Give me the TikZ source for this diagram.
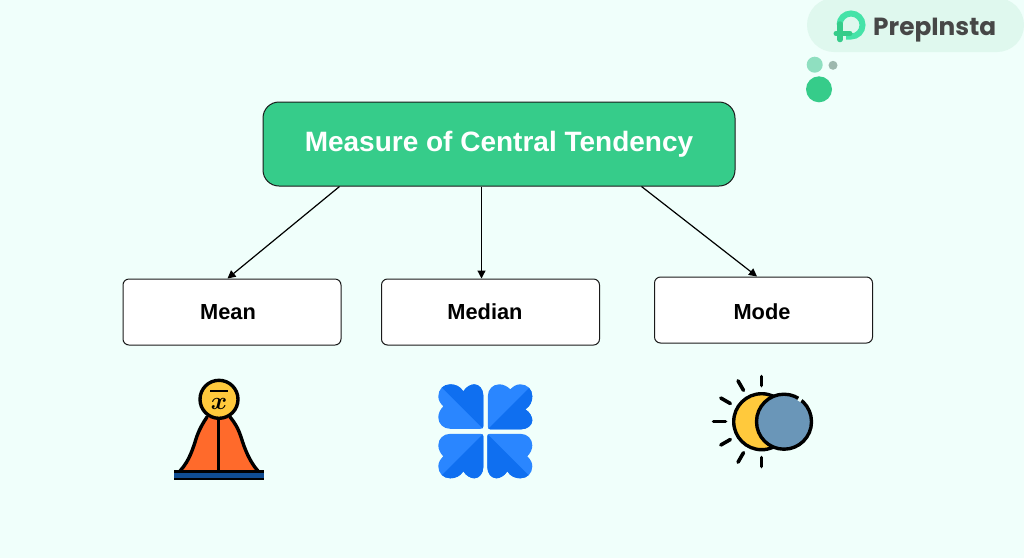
\documentclass[tikz,border=0pt]{standalone}
\usepackage{fontspec}
\setmainfont{Liberation Sans}
\newfontfamily\logofont{Poppins}
\usetikzlibrary{arrows.meta}
\definecolor{bgc}{HTML}{F0FFFB}
\definecolor{topc}{HTML}{36CC8A}
\definecolor{pillc}{HTML}{DFF8EE}
\definecolor{hlight}{HTML}{2A86FF}
\definecolor{hdark}{HTML}{0F6FF0}
\definecolor{edge}{HTML}{1A1A1A}
\definecolor{barblue}{HTML}{0F4C91}
\definecolor{bellc}{HTML}{FF6A2B}
\definecolor{suny}{HTML}{FFC93C}
\definecolor{moonb}{HTML}{6A96B8}
\definecolor{arcg}{HTML}{45E3A8}
\definecolor{dota}{HTML}{8FDFC0}
\definecolor{dotb}{HTML}{9DB8AE}
\tikzset{
  topbox/.style={draw=edge,line width=1pt,fill=topc,rounded corners=16pt,minimum width=472pt,minimum height=84pt,inner sep=0pt,text=white,font=\bfseries\fontsize{28}{32}\selectfont},
  subbox/.style={draw=edge,line width=1pt,fill=white,rounded corners=6pt,minimum width=218pt,minimum height=66pt,inner sep=0pt,text=black,font=\bfseries\fontsize{21.8}{26}\selectfont},
  conn/.style={draw=black,line width=1.2pt,-{Triangle[length=8pt,width=8pt]}},
  ink/.style={draw=black,line width=3.4pt,line cap=round,line join=round},
  ray/.style={draw=black,line width=3.6pt,line cap=round},
  heart/.pic={
    \begin{scope}
      \clip (-2,-5) .. controls (-2,-3) and (-3,-2.5) .. (-5,-2.5) -- (-35,-2.5) .. controls (-42,-2.5) and (-47,-7.5) .. (-47,-14)
        .. controls (-47,-18) and (-45,-22) .. (-42,-25)
        .. controls (-45,-28) and (-47,-31) .. (-47,-35)
        .. controls (-47,-42) and (-42,-47) .. (-35,-47)
        .. controls (-30,-47) and (-25,-45) .. (-22,-40)
        .. controls (-19,-45) and (-14,-47) .. (-11,-47)
        .. controls (-6,-47) and (-2,-42) .. (-2,-36) -- cycle;
      \fill[hlight] (-50,-50) rectangle (0,0);
      \fill[hdark] (-2,-2.5) -- (-44,-44.5) -- (-44,-50) -- (0,-50) -- (0,-2.5) -- cycle;
    \end{scope}
  }
}
\begin{document}
\begin{tikzpicture}[x=1pt,y=-1pt]
\useasboundingbox (0,0) rectangle (1024,558);
\fill[bgc] (0,0) rectangle (1024,558);
% logo
\fill[pillc,rounded corners=27pt] (807,-2) rectangle (1024,52);
\draw[draw=arcg,line width=6pt] (839.5,25) .. controls (839.5,18.6) and (844.6,13.5) .. (851,13.5) .. controls (857.4,13.5) and (862.5,18.6) .. (862.5,25) .. controls (862.5,31.4) and (857.4,36.5) .. (851,36.5) -- (846,36.5);
\draw[draw=topc,line width=5.5pt,line cap=round] (840,24) -- (840,39.5);
\draw[draw=topc,line width=5pt,line cap=round] (836,33.5) -- (850,33.5);
\node[text=black!72,anchor=base west,inner sep=0pt,font=\logofont\bfseries\fontsize{24.8}{28}\selectfont] (logotext) at (873,35) {PrepInsta};
\fill[dota] (814.7,64.7) circle (8);
\fill[dotb] (833,65.3) circle (4.5);
\fill[topc] (819,89.3) circle (13);
% boxes
\node[topbox] (top) at (499,144) {Measure of Central Tendency};
\node[subbox] (mean) at (232,312) {Mean\hspace*{8pt}};
\node[subbox] (median) at (490.5,312) {Median\hspace*{11pt}};
\node[subbox] (mode) at (763.5,310) {\raisebox{-2pt}[\height][\depth]{Mode}\hspace*{3pt}};
% connectors
\draw[conn] ([xshift=77pt]top.south west) -- ([xshift=105pt]mean.north west);
\draw[conn] ([xshift=219pt]top.south west) -- ([xshift=100.5pt]median.north west);
\draw[conn] ([xshift=379pt]top.south west) -- ([xshift=103pt]mode.north west);
% mean icon
\fill[bellc] (180,471) .. controls (190,460) and (193,448) .. (197,436) .. controls (200,428) and (203,423) .. (207,417) -- (230,417) .. controls (235,423) and (238,428) .. (241,437) .. controls (245,450) and (250,462) .. (258,471) -- cycle;
\draw[ink] (180,471) .. controls (190,460) and (193,448) .. (197,436) .. controls (200,428) and (203,423) .. (207,417);
\draw[ink] (230,417) .. controls (235,423) and (238,428) .. (241,437) .. controls (245,450) and (250,462) .. (258,471);
\draw[draw=black,line width=3pt] (218.5,417) -- (218.5,471);
\fill[barblue] (174,472) rectangle (264,479);
\fill[black] (174,470.3) rectangle (264,472.8);
\fill[black] (174,478) rectangle (264,479.8);
\draw[ink,fill=suny] (219,399.3) circle (19);
\draw[draw=black,line width=2pt] (210,390.7) -- (228,390.7);
\node[text=black,inner sep=0pt,font=\boldmath\fontsize{34}{34}\selectfont] (xsym) at (219,403.5) {$x$};
% median icon
\pic at (485.3,431.3) {heart};
\pic[rotate=-90] at (485.3,431.3) {heart};
\pic[rotate=180] at (485.3,431.3) {heart};
\pic[yscale=-1] at (485.3,431.3) {heart};
% mode icon
\foreach \a/\r in {90/45,120/47,150/47,180/48,210/47,240/47,270/45}{
  \draw[ray,shift={(761.5,421.5)}] (\a:36) -- (\a:\r);
}
\draw[ink,fill=suny] (761.7,421.7) circle (28);
\draw[ink,fill=moonb] (784,421.7) circle (27.5);
\draw[draw=bgc,line width=4.4pt] (798.5,398.3) -- (801.5,400.3);
\end{tikzpicture}
\end{document}
